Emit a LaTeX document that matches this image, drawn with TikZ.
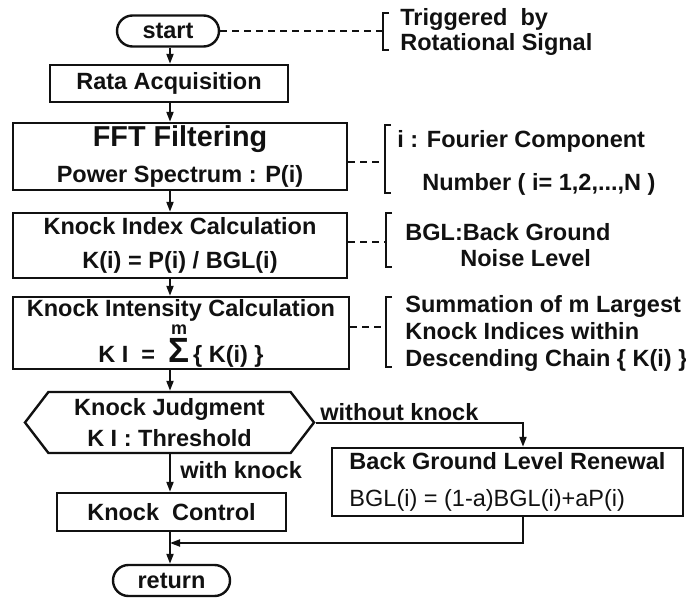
\documentclass[tikz,border=0pt]{standalone}
\usepackage{fontspec}
\setmainfont{Liberation Sans}
\usepackage{tikz}
\usetikzlibrary{positioning, arrows.meta, calc, shapes.misc, shapes.symbols}
\definecolor{inkBlack}{HTML}{111111}
\newcommand{\flowfont}{\fontsize{11.75pt}{14pt}\selectfont\bfseries}
\newcommand{\notefont}{\fontsize{11.75pt}{12.5pt}\selectfont\bfseries}

\begin{document}
\begin{tikzpicture}[x=0.5pt, y=-0.5pt,
    flowbox/.style={draw=inkBlack, line width=1.2pt, inner sep=0pt, align=center, font=\flowfont, text=inkBlack},
    terminal/.style={flowbox, rounded rectangle, minimum width=51pt, minimum height=15.5pt},
    decision/.style={flowbox, signal, signal to=east and west, signal pointer angle=105},
    flow/.style={-{Triangle[length=5pt, width=3.5pt]}, line width=1pt, color=inkBlack},
    notelink/.style={dash pattern=on 3.5pt off 2.5pt, line width=0.8pt, color=inkBlack},
    note/.style={align=left, font=\notefont, inner sep=0pt, anchor=base west, text=inkBlack}]
  \useasboundingbox (0,0) rectangle (686,599);

  \node[terminal] (start) at (168,31) {start};
  \node[flowbox, minimum width=119pt, minimum height=18.5pt] (rata) at (169,83.5) {Rata Acquisition};
  \node[flowbox, minimum width=167pt, minimum height=33.5pt] (fft) at (180,156.5)
    {{\fontsize{14.4pt}{16pt}\selectfont FFT Filtering}\\[4pt]Power Spectrum : P(i)};
  \node[flowbox, minimum width=167pt, minimum height=32.5pt] (kidx) at (180,245.5)
    {Knock Index Calculation\\[3pt]K(i) = P(i) / BGL(i)};
  \node[flowbox, minimum width=168pt, minimum height=36pt] (kint) at (181,333)
    {Knock Intensity Calculation\\[7.5pt]K I \ = \ \makebox[0pt][l]{\hspace{1.5pt}\smash{\raisebox{14pt}{\fontsize{9pt}{9pt}\selectfont m}}}{\fontsize{17.5pt}{18pt}\selectfont Σ}\,\{ K(i) \}};
  \node[decision, minimum width=144.5pt, minimum height=30.5pt] (judge) at (169.5,422.5)
    {Knock Judgment\\[1.5pt]K I : Threshold};
  \node[flowbox, minimum width=114.5pt, minimum height=19pt] (kctrl) at (171.5,512) {Knock\ \ Control};
  \node[flowbox, minimum width=175.5pt, minimum height=34pt, align=left] (bgl) at (507.5,482)
    {Back Ground Level Renewal\\[4.5pt]{\mdseries BGL(i) = (1-a)BGL(i)+aP(i)}};
  \node[terminal, minimum width=58.5pt] (ret) at (171.5,580.5) {return};

  \coordinate (spine) at (170,0);
  \coordinate (sideLane) at (523,422.5);
  \coordinate (merge) at (170,543);

  \foreach \a/\b in {start/rata, rata/fft, fft/kidx, kidx/kint, kint/judge, judge/kctrl, kctrl/ret} {
    \draw[flow] (\a.south -| spine) -- (\b.north -| spine);
  }
  \draw[flow] (judge.east) -- (sideLane) -- (bgl.north -| sideLane);
  \draw[flow] (bgl.south -| sideLane) |- (merge);
  \node[note] (noKnock) at (320,420) {without knock};
  \node[note] (withKnock) at (180,478) {with knock};

  \coordinate (trigBr) at (383,31);
  \coordinate (fftBr) at (385,162);
  \coordinate (kidxBr) at (386,242);
  \coordinate (kintBr) at (386,327);
  \draw[notelink] (start.east) -- (trigBr);
  \draw[notelink] (fft.east |- fftBr) -- (fftBr);
  \draw[notelink] (kidx.east |- kidxBr) -- (kidxBr);
  \draw[notelink] (kint.east |- kintBr) -- (kintBr);
  \foreach \x/\t/\b in {383/13/50, 385/125/193, 386/213/267, 386/297/367} {
    \draw[line width=0.8pt, color=inkBlack] (\x+6,\t) -- (\x,\t) -- (\x,\b) -- (\x+6,\b);
  }

  \node[note] (trigNote) at (400,51) {Triggered\ \ by\\Rotational Signal};
  \node[note] (fftNote) at (397,191) {i : Fourier Component\\[9pt]\hspace*{12.5pt}Number ( i= 1,2,...,N )};
  \node[note] (kidxNote) at (405,266) {BGL:Back Ground\\[0.5pt]\hspace*{27.5pt}Noise Level};
  \node[note] (kintNote) at (405,366) {Summation of m Largest\\[1pt]Knock Indices within\\[1pt]Descending Chain \{ K(i) \}};
\end{tikzpicture}
\end{document}
